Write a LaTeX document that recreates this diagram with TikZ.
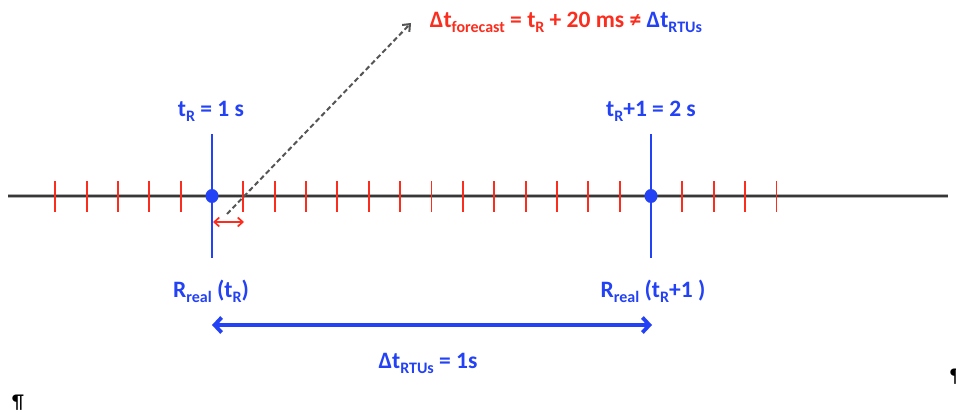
\documentclass[tikz,border=0pt]{standalone}
\usepackage{fontspec}
\setmainfont{Carlito}
\usetikzlibrary{arrows.meta,shapes.geometric}
\definecolor{tblue}{RGB}{35,65,245}
\definecolor{tred}{RGB}{250,45,30}
\definecolor{axisgray}{RGB}{55,55,55}
\newcommand{\lowsub}[1]{\raisebox{-5pt}{\fontsize{16}{18}\selectfont #1}}
\begin{document}
\begin{tikzpicture}[x=1pt,y=-1pt,
    lbl/.style={font=\fontsize{23.5}{28}\selectfont\bfseries, text=tblue, inner sep=0pt, anchor=base},
    tick/.style={tred, line width=1.9pt},
    dot/.style={ellipse, fill=tblue, inner sep=0pt, minimum width=13pt, minimum height=14pt}]
    \useasboundingbox (0,0) rectangle (956,412);
    % 时间轴
    \draw[axisgray!40, line width=4.5pt] (8,196) -- (948,196);
    \draw[axisgray, line width=2.4pt] (8,196) coordinate (axL) -- (948,196) coordinate (axR);
    \foreach \i in {-5,...,18}
        \draw[tick] (212+\i*31.36,181) -- (212+\i*31.36,212);
    % 两个时刻
    \coordinate (vAtop) at (212,134); \coordinate (vAbot) at (212,258);
    \coordinate (vBtop) at (651,134); \coordinate (vBbot) at (651,258);
    \draw[tblue, line width=1.8pt] (vAtop) -- (vAbot);
    \draw[tblue, line width=1.8pt] (vBtop) -- (vBbot);
    \node[dot] (dotA) at (212,196) {};
    \node[dot] (dotB) at (651,196) {};
    \node[lbl] (tA) at (211,117) {t\lowsub{R} = 1 s};
    \node[lbl] (tB) at (651,117) {t\lowsub{R}+1 = 2 s};
    % 预测
    \coordinate (dA) at (213,222); \coordinate (dB) at (244,222);
    \draw[tred, line width=1.7pt, {Straight Barb[length=5pt,width=9pt]}-{Straight Barb[length=5pt,width=9pt]}] (dA) -- (dB);
    \coordinate (fcS) at (227,214); \coordinate (fcE) at (411,23);
    \draw[axisgray!85, line width=2pt, dash pattern=on 5pt off 3pt, -{Straight Barb[length=6pt,width=10pt]}] (fcS) -- (fcE);
    \node[lbl, text=tred] (fc) at (566,28) {Δt\lowsub{forecast} = t\lowsub{R} + 20 ms ≠ \textcolor{tblue}{Δt\lowsub{RTUs}}};
    % 测量
    \node[lbl] (rA) at (211,297) {R\lowsub{real} (t\lowsub{R})};
    \node[lbl] (rB) at (653,297) {R\lowsub{real} (t\lowsub{R}+1 )};
    \coordinate (bA) at (212,325); \coordinate (bB) at (652,325);
    \draw[tblue, line width=3.8pt, {Straight Barb[length=7pt,width=15pt]}-{Straight Barb[length=7pt,width=15pt]}] (bA) -- (bB);
    \node[lbl] (dT) at (428,368) {Δt\lowsub{RTUs} = 1s};
    % 段落符
    \node[font=\fontsize{20}{24}\selectfont, anchor=base, inner sep=0pt] (pA) at (18,408) {¶};
    \node[font=\fontsize{20}{24}\selectfont, anchor=base west, inner sep=0pt] (pB) at (950,382) {¶};
\end{tikzpicture}
\end{document}
